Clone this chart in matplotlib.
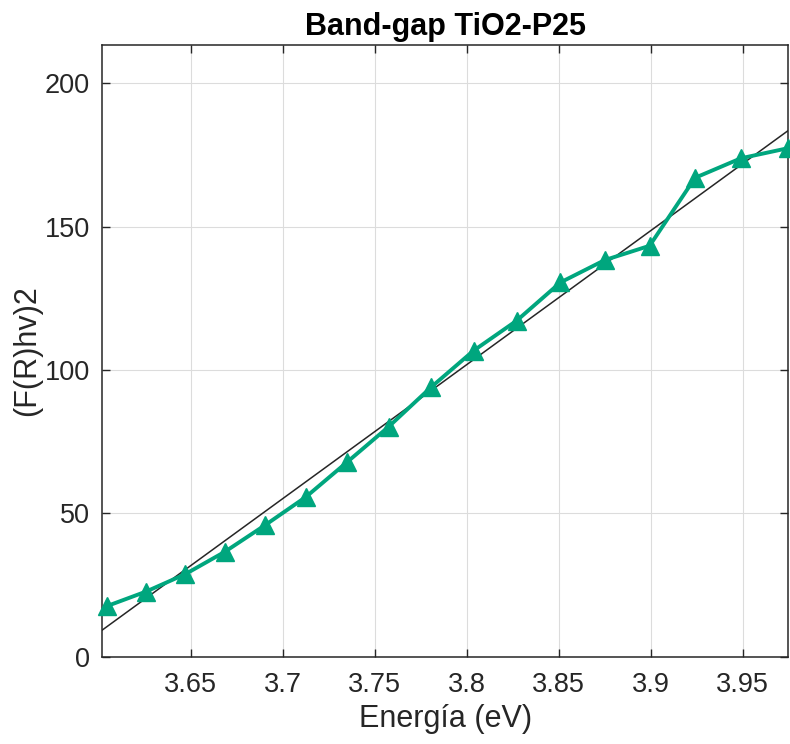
import numpy as np
import matplotlib
matplotlib.use('Agg')
import matplotlib.pyplot as plt

plt.rcParams['font.family'] = ['Liberation Sans', 'DejaVu Sans']

# Energy (eV) and (F(R)hv)^2 values
energia = [3.6047, 3.6257, 3.6471, 3.6686, 3.6905, 3.7126, 3.7349, 3.7576, 3.7805,
           3.8037, 3.8272, 3.8509, 3.8750, 3.8994, 3.9241, 3.9490, 3.9744]
frhv2 = [17.7, 22.7, 28.8, 36.6, 45.9, 55.7, 67.8, 80.2, 93.9,
         106.7, 117.2, 130.5, 138.3, 143.3, 167.0, 173.8, 177.3]

# linear fit
fit_slope = 467.3
fit_intercept = -1673.9

xlim = (3.602, 3.9746)
ylim = (0, 213.3)
xticks = [3.65, 3.7, 3.75, 3.8, 3.85, 3.9, 3.95]
xtick_labels = ['3.65', '3.7', '3.75', '3.8', '3.85', '3.9', '3.95']
yticks = [0, 50, 100, 150, 200]

green = '#00A67E'
dark = '#262626'

fig = plt.figure(figsize=(7.9, 7.44), dpi=100)
ax = fig.add_axes([0.1295, 0.1173, 0.8680, 0.8222])

xfit = np.array(xlim)
ax.plot(xfit, fit_slope * xfit + fit_intercept, color=dark, linewidth=1.1, zorder=2)
ax.plot(energia, frhv2, color=green, linewidth=2.8, marker='^', markersize=12.5,
        markerfacecolor=green, markeredgecolor=green, zorder=3, clip_on=False)

ax.set_xlim(*xlim)
ax.set_ylim(*ylim)
ax.set_xticks(xticks)
ax.set_xticklabels(xtick_labels)
ax.set_yticks(yticks)

ax.grid(True, color='#dcdcdc', linewidth=0.8)
ax.set_axisbelow(True)
ax.tick_params(direction='in', top=True, right=True, length=6, width=1,
               labelsize=19.5, colors=dark)
ax.tick_params(axis='y', pad=9)
ax.tick_params(axis='x', pad=11)
for s in ax.spines.values():
    s.set_color(dark)
    s.set_linewidth(1.1)

ax.set_title('Band-gap TiO2-P25', fontsize=22, fontweight='bold', color='black', pad=7)
ax.set_xlabel('Energía (eV)', fontsize=22, color=dark, labelpad=4)
ax.set_ylabel('(F(R)hv)2', fontsize=22, color=dark, labelpad=2)

fig.savefig('out.png', dpi=100)
